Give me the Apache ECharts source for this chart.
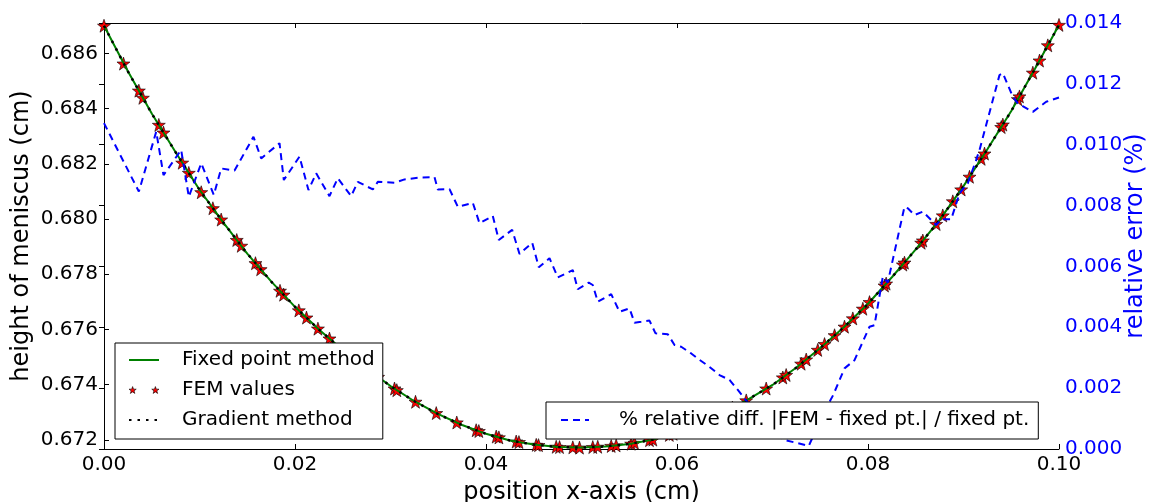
<!DOCTYPE html>
<html><head><meta charset="utf-8">
<script src="https://cdn.jsdelivr.net/npm/echarts@6/dist/echarts.min.js"></script>
<style>html,body{margin:0;padding:0;background:#fff}#c{width:1149px;height:502px}</style>
</head><body><div id="c"></div>
<script>
// ---- data ----
const xTickValues = [0, 0.02, 0.04, 0.06, 0.08, 0.10];
const leftTickValues = [0.672, 0.674, 0.676, 0.678, 0.680, 0.682, 0.684, 0.686];
const rightTickValues = [0.000, 0.002, 0.004, 0.006, 0.008, 0.010, 0.012, 0.014];

const fixedX = [0.0000,0.0025,0.0050,0.0075,0.0100,0.0125,0.0150,0.0175,0.0200,0.0225,0.0250,0.0275,0.0300,0.0325,0.0350,0.0375,0.0400,0.0425,0.0450,0.0475,0.0500,0.0525,0.0550,0.0575,0.0600,0.0625,0.0650,0.0675,0.0700,0.0725,0.0750,0.0775,0.0800,0.0825,0.0850,0.0875,0.0900,0.0925,0.0950,0.0975,0.1000];
const fixedY = [0.68700,0.68535,0.68382,0.68242,0.68106,0.67987,0.67875,0.67774,0.67682,0.67600,0.67526,0.67458,0.67395,0.67340,0.67293,0.67254,0.67222,0.67198,0.67183,0.67174,0.67172,0.67176,0.67185,0.67201,0.67226,0.67262,0.67302,0.67348,0.67399,0.67462,0.67533,0.67609,0.67693,0.67789,0.67890,0.67997,0.68119,0.68253,0.68391,0.68545,0.68703];
const gradientY = [0.68700,0.68535,0.68382,0.68242,0.68106,0.67987,0.67875,0.67774,0.67682,0.67600,0.67526,0.67458,0.67395,0.67340,0.67293,0.67254,0.67222,0.67198,0.67183,0.67174,0.67172,0.67176,0.67185,0.67201,0.67226,0.67262,0.67302,0.67348,0.67399,0.67462,0.67533,0.67609,0.67693,0.67789,0.67890,0.67997,0.68119,0.68253,0.68391,0.68545,0.68703];

const femX = [0.0000,0.00204,0.00365,0.00407,0.00574,0.00623,0.00819,0.00888,0.01018,0.0114,0.01227,0.0139,0.01437,0.01586,0.0164,0.01843,0.0188,0.0204,0.0212,0.0224,0.02361,0.0255,0.026,0.0282,0.0287,0.03042,0.03066,0.03262,0.03479,0.03694,0.03897,0.03925,0.04107,0.04135,0.04316,0.04345,0.04526,0.0455,0.04735,0.0477,0.04909,0.04979,0.05118,0.0517,0.05311,0.05363,0.0552,0.05555,0.05712,0.05747,0.0592,0.0596,0.0612,0.0617,0.0633,0.0637,0.0655,0.0658,0.06725,0.06934,0.07108,0.07143,0.073,0.07353,0.07474,0.07545,0.0765,0.07754,0.07841,0.07946,0.08016,0.08173,0.0819,0.08365,0.08382,0.08557,0.08574,0.08714,0.08783,0.08888,0.08976,0.09063,0.09185,0.0922,0.09395,0.09412,0.09569,0.09586,0.09726,0.09796,0.09883,0.1000];
const femY = [0.68700,0.68563,0.68465,0.68439,0.68341,0.68313,0.68204,0.68167,0.68097,0.68039,0.67998,0.67924,0.67903,0.67840,0.67818,0.67740,0.67726,0.67669,0.67643,0.67603,0.67567,0.67512,0.67499,0.67440,0.67428,0.67386,0.67380,0.67338,0.67297,0.67263,0.67235,0.67232,0.67212,0.67209,0.67194,0.67192,0.67182,0.67181,0.67175,0.67174,0.67173,0.67172,0.67174,0.67175,0.67178,0.67180,0.67186,0.67189,0.67199,0.67201,0.67218,0.67222,0.67243,0.67250,0.67275,0.67281,0.67311,0.67317,0.67343,0.67386,0.67426,0.67435,0.67476,0.67491,0.67526,0.67547,0.67579,0.67610,0.67640,0.67675,0.67699,0.67759,0.67766,0.67835,0.67842,0.67914,0.67922,0.67982,0.68013,0.68064,0.68107,0.68153,0.68218,0.68237,0.68333,0.68342,0.68434,0.68444,0.68530,0.68574,0.68629,0.68703];

const errX = [0.0000,0.00365,0.00547,0.00623,0.00808,0.00888,0.01018,0.0115,0.01227,0.01367,0.01565,0.01646,0.01838,0.01883,0.02047,0.02141,0.02222,0.02361,0.02448,0.0250,0.02588,0.02658,0.02815,0.02867,0.03042,0.03147,0.03304,0.03461,0.03495,0.03618,0.03705,0.03862,0.03932,0.04071,0.04134,0.04274,0.04351,0.04484,0.04553,0.04665,0.04752,0.04909,0.04961,0.05076,0.05118,0.05171,0.05311,0.05398,0.05503,0.05555,0.05625,0.05712,0.05775,0.05904,0.05974,0.06044,0.06149,0.06236,0.0634,0.06445,0.0655,0.06637,0.06725,0.0690,0.0712,0.0728,0.0738,0.0752,0.07635,0.07754,0.07859,0.08016,0.08068,0.08155,0.08207,0.08382,0.08417,0.08487,0.08574,0.08714,0.08766,0.08871,0.08958,0.09045,0.09133,0.09168,0.09307,0.09377,0.09412,0.09516,0.09569,0.09726,0.09866,0.1000];
const errY = [0.01071,0.00846,0.01043,0.00900,0.00983,0.00829,0.00939,0.00835,0.00922,0.00915,0.01026,0.00955,0.01005,0.00884,0.00961,0.00851,0.00906,0.00831,0.00890,0.00868,0.00831,0.00878,0.00853,0.00878,0.00875,0.00886,0.00892,0.00893,0.00853,0.00854,0.00796,0.00809,0.00742,0.00766,0.00687,0.00720,0.00641,0.00678,0.00597,0.00627,0.00564,0.00588,0.00525,0.00547,0.00539,0.00484,0.00509,0.00451,0.00462,0.00415,0.00418,0.00422,0.00380,0.00377,0.00342,0.00336,0.00314,0.00293,0.00270,0.00243,0.00227,0.00194,0.00159,0.00090,0.00030,0.00018,0.00010,0.00110,0.00177,0.00265,0.00292,0.00402,0.00407,0.00566,0.00547,0.00796,0.00791,0.00769,0.00780,0.00736,0.00755,0.00755,0.00840,0.00873,0.00950,0.00983,0.01147,0.01229,0.01235,0.01158,0.01136,0.01108,0.01141,0.01155];

const seriesNames = ['Fixed point method', 'FEM values', 'Gradient method', '% relative diff. |FEM - fixed pt.| / fixed pt.'];
const axisNames = ['position x-axis (cm)', 'height of meniscus (cm)', 'relative error (%)'];

// ---- styling ----
const FONT = 'DejaVu Sans';
const STAR = 'path://M5,0L6.18,3.38L9.76,3.45L6.9,5.62L7.94,9.05L5,7L2.06,9.05L3.1,5.62L0.24,3.45L3.82,3.38Z';
const TWO_STARS = 'path://M5,0L6.18,3.38L9.76,3.45L6.9,5.62L7.94,9.05L5,7L2.06,9.05L3.1,5.62L0.24,3.45L3.82,3.38Z' +
  'M35,0L36.18,3.38L39.76,3.45L36.9,5.62L37.94,9.05L35,7L32.06,9.05L33.1,5.62L30.24,3.45L33.82,3.38Z';
const zip = (a, b) => a.map((v, i) => [v, b[i]]);
const hiddenSymbol = {opacity: 0, color: 'rgba(0,0,0,0)', borderWidth: 0};

const chart = echarts.init(document.getElementById('c'), null, {renderer: 'canvas'});
const axisLineStyle = {show: true, lineStyle: {color: '#000', width: 1}};
const tick = {show: true, inside: true, length: 5, lineStyle: {color: '#000', width: 1}};

chart.setOption({
  animation: false,
  backgroundColor: '#fff',
  textStyle: {fontFamily: FONT},
  grid: {left: 104, right: 90, top: 23, bottom: 53, containLabel: false, outerBoundsMode: 'none'},
  xAxis: [{
    type: 'value', position: 'bottom', min: xTickValues[0], max: xTickValues[xTickValues.length - 1], interval: 0.02,
    axisLine: axisLineStyle, axisTick: tick, splitLine: {show: false},
    axisLabel: {fontSize: 20, color: '#000', fontFamily: FONT, margin: 6, formatter: v => v.toFixed(2)},
    name: axisNames[0], nameLocation: 'middle', nameGap: 32, nameMoveOverlap: false,
    nameTextStyle: {fontSize: 24, color: '#000', fontFamily: FONT}
  }, {
    type: 'value', position: 'top', min: xTickValues[0], max: xTickValues[xTickValues.length - 1], interval: 0.02,
    axisLine: axisLineStyle, axisTick: tick, splitLine: {show: false}, axisLabel: {show: false}
  }],
  yAxis: [{
    type: 'value', position: 'left', min: 0.67167, max: 0.6871, scale: true,
    axisLine: axisLineStyle,
    axisTick: Object.assign({}, tick, {customValues: leftTickValues}),
    splitLine: {show: false},
    axisLabel: {customValues: leftTickValues, fontSize: 20, color: '#000', fontFamily: FONT, margin: 6, formatter: v => v.toFixed(3)},
    name: axisNames[1], nameLocation: 'middle', nameGap: 70, nameRotate: 90, nameMoveOverlap: false,
    nameTextStyle: {fontSize: 24, color: '#000', fontFamily: FONT}
  }, {
    type: 'value', position: 'right', min: rightTickValues[0], max: rightTickValues[rightTickValues.length - 1], interval: 0.002,
    axisLine: axisLineStyle, axisTick: tick, splitLine: {show: false},
    axisLabel: {fontSize: 20, color: '#0000ff', fontFamily: FONT, margin: 6, formatter: v => v.toFixed(3)},
    name: axisNames[2], nameLocation: 'middle', nameGap: 65, nameRotate: 90, nameMoveOverlap: false,
    nameTextStyle: {fontSize: 24, color: '#0000ff', fontFamily: FONT}
  }],
  legend: [{
    data: [
      {name: seriesNames[0], itemStyle: hiddenSymbol},
      {name: seriesNames[1], icon: TWO_STARS, itemStyle: {color: '#ff0000', borderColor: '#000', borderWidth: 0.6}},
      {name: seriesNames[2], itemStyle: hiddenSymbol}
    ],
    orient: 'vertical', left: 115, top: 343, padding: [7, 8, 9, 13],
    itemWidth: 30, itemHeight: 12, itemGap: 10,
    backgroundColor: '#fff', borderColor: '#000', borderWidth: 1, borderRadius: 0,
    selectedMode: false, z: 10,
    textStyle: {fontSize: 20, color: '#000', fontFamily: FONT, lineHeight: 20, padding: [0, 0, 0, 18]}
  }, {
    data: [{name: seriesNames[3], itemStyle: hiddenSymbol}],
    orient: 'horizontal', left: 546, top: 402, padding: [8, 9, 9, 14],
    itemWidth: 28, itemHeight: 12,
    backgroundColor: '#fff', borderColor: '#000', borderWidth: 1, borderRadius: 0,
    selectedMode: false, z: 10,
    textStyle: {fontSize: 20, color: '#000', fontFamily: FONT, lineHeight: 20, padding: [0, 0, 0, 25]}
  }],
  series: [{
    name: seriesNames[0], type: 'line', xAxisIndex: 0, yAxisIndex: 0,
    data: zip(fixedX, fixedY), symbol: 'none', smooth: false,
    lineStyle: {color: '#008000', width: 2}, itemStyle: {color: '#008000'}
  }, {
    name: seriesNames[1], type: 'scatter', xAxisIndex: 0, yAxisIndex: 0,
    data: zip(femX, femY), symbol: STAR, symbolSize: 13,
    itemStyle: {color: '#ff0000', borderColor: '#000', borderWidth: 0.6, opacity: 1}
  }, {
    name: seriesNames[2], type: 'line', xAxisIndex: 0, yAxisIndex: 0,
    data: zip(fixedX, gradientY), symbol: 'none',
    lineStyle: {color: '#000', width: 2.5, type: [2.5, 6], cap: 'butt'}, itemStyle: {color: '#000'}
  }, {
    name: seriesNames[3], type: 'line', xAxisIndex: 0, yAxisIndex: 1,
    data: zip(errX, errY), symbol: 'none',
    lineStyle: {color: '#0000ff', width: 2, type: [7, 5]}, itemStyle: {color: '#0000ff'}
  }]
});
</script></body></html>
